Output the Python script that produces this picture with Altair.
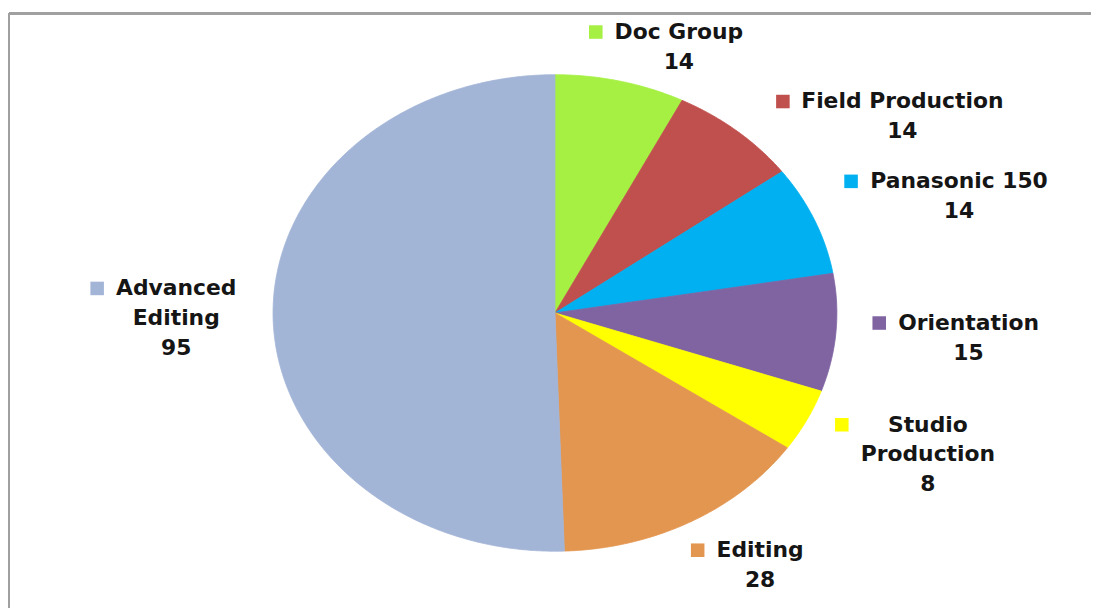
import math
import altair as alt
import pandas as pd

# ---- data ----
categories = ["Doc Group", "Field Production", "Panasonic 150", "Orientation",
              "Studio Production", "Editing", "Advanced Editing"]
values = [14, 14, 14, 15, 8, 28, 95]
colors = ["#A6F044", "#C0504D", "#00B0F0", "#8064A2", "#FFFF00", "#E39650", "#A3B5D7"]
label_lines = [["Doc Group"], ["Field Production"], ["Panasonic 150"], ["Orientation"],
               ["Studio", "Production"], ["Editing"], ["Advanced", "Editing"]]

# ---- layout ----
W, H = 1090, 597
CX, CY = 550, 302          # pie centre in view pixels
RX, RY = 284, 240          # pie radii (reference is stretched horizontally)
FONT_SIZE = 22
LINE_H = 30
R_A = 1.13                 # label anchor distance in pie radii
SQ = 14                    # legend key size
SQ_GAP = 12
TOP_MIN, BOT_MAX = 4, 586  # label block limits (view px)

# DejaVu Sans Bold advance widths (units / 2048) for text measuring
CW = {" ": 713, "0": 1425, "1": 1425, "2": 1425, "3": 1425, "4": 1425, "5": 1425,
      "6": 1425, "7": 1425, "8": 1425, "9": 1425, "A": 1585, "D": 1696, "E": 1399,
      "F": 1290, "G": 1669, "O": 1743, "P": 1499, "S": 1479, "a": 1382, "c": 1214,
      "d": 1466, "e": 1389, "g": 1466, "i": 702, "l": 702, "n": 1460, "o": 1407,
      "p": 1466, "r": 1010, "s": 1219, "t": 979, "u": 1460, "v": 1331}


def text_w(s):
    return sum(CW.get(ch, 1300) for ch in s) / 2048 * FONT_SIZE


def hshift(sa):
    return math.copysign(math.sqrt(abs(sa)), sa)


total = sum(values)

# ---- pie slices as filled polygons ----
rows = []
start = 0
mids = []
for name, v in zip(categories, values):
    a0 = start / total * 2 * math.pi
    a1 = (start + v) / total * 2 * math.pi
    mids.append((a0 + a1) / 2)
    n = max(2, int(math.ceil((a1 - a0) / math.radians(0.5))))
    pts = [(0.0, 0.0)]
    for j in range(n + 1):
        a = a0 + (a1 - a0) * j / n
        pts.append((math.sin(a), math.cos(a)))
    pts.append((0.0, 0.0))
    for i, (x, y) in enumerate(pts):
        rows.append({"name": name, "i": i, "x": x, "y": y})
    start += v
pie_df = pd.DataFrame(rows)

# ---- label boxes (view px, y down) ----
labs = []
for name, lines, v, a in zip(categories, label_lines, values, mids):
    w = max(text_w(s) for s in lines)
    bw = SQ + SQ_GAP + w
    bh = (len(lines) + 1) * LINE_H
    sa, ca = math.sin(a), math.cos(a)
    px = CX + R_A * RX * sa
    py = CY - R_A * RY * ca
    cx = px + hshift(sa) * bw / 2
    cy = py - ca * bh / 2
    cy = min(max(cy, TOP_MIN + bh / 2), BOT_MAX - bh / 2)
    labs.append({"name": name, "lines": lines, "v": v, "a": a, "w": w,
                 "bw": bw, "bh": bh, "cx": cx, "cy": cy})

# push right-side labels apart vertically
right = sorted([l for l in labs if math.sin(l["a"]) > 0], key=lambda l: l["a"])
for p, q in zip(right[:-1], right[1:]):
    need = p["cy"] + (p["bh"] + q["bh"]) / 2 + 10
    if q["cy"] < need:
        q["cy"] = need
        sa, ca = math.sin(q["a"]), math.cos(q["a"])
        py = q["cy"] + ca * q["bh"] / 2
        yn = (CY - py) / RY
        xn = math.sqrt(max(R_A ** 2 - yn ** 2, 0.0))
        q["cx"] = CX + xn * RX + hshift(sa) * q["bw"] / 2

lab_rows, sq_rows = [], []
for l in labs:
    nl = len(l["lines"]) + 1
    left = l["cx"] - l["bw"] / 2
    first_y = l["cy"] - (nl - 1) / 2 * LINE_H
    tx = left + SQ + SQ_GAP + l["w"] / 2
    sx = left + SQ / 2
    lab_rows.append({"name": l["name"], "text": "\n".join(l["lines"] + [str(l["v"])]),
                     "x": (tx - CX) / RX, "y": (CY - first_y) / RY})
    sq_rows.append({"name": l["name"], "x": (sx - CX) / RX, "y": (CY - first_y) / RY})
lab_df = pd.DataFrame(lab_rows)
sq_df = pd.DataFrame(sq_rows)

xs = alt.Scale(domain=[-1, 1], range=[CX - RX, CX + RX], nice=False, zero=False)
ys = alt.Scale(domain=[-1, 1], range=[CY + RY, CY - RY], nice=False, zero=False)
cs = alt.Scale(domain=categories, range=colors)

pie = alt.Chart(pie_df).mark_line(filled=True, strokeWidth=0.8).encode(
    x=alt.X("x:Q", scale=xs, axis=None),
    y=alt.Y("y:Q", scale=ys, axis=None),
    color=alt.Color("name:N", scale=cs, legend=None),
    stroke=alt.Stroke("name:N", scale=cs, legend=None),
    order=alt.Order("i:Q"),
)

squares = alt.Chart(sq_df).mark_square(size=SQ * SQ - 10, opacity=1, filled=True).encode(
    x=alt.X("x:Q", scale=xs, axis=None),
    y=alt.Y("y:Q", scale=ys, axis=None),
    color=alt.Color("name:N", scale=cs, legend=None),
)

labels = alt.Chart(lab_df).mark_text(
    font="DejaVu Sans", fontSize=FONT_SIZE, fontWeight="bold", lineHeight=LINE_H,
    align="center", baseline="middle", lineBreak="\n", color="#151515"
).encode(
    x=alt.X("x:Q", scale=xs, axis=None),
    y=alt.Y("y:Q", scale=ys, axis=None),
    text="text:N",
)

border_top = alt.Chart(pie_df).mark_rule(color="#A0A0A0", strokeWidth=2).encode(
    x=alt.value(0), x2=alt.value(W + 10), y=alt.value(0)
)
border_left = alt.Chart(pie_df).mark_rule(color="#A0A0A0", strokeWidth=2).encode(
    x=alt.value(0), y=alt.value(0), y2=alt.value(H + 10)
)

chart = alt.layer(pie, squares, labels, border_top, border_left).properties(
    width=W, height=H,
    padding={"left": 1, "top": 3, "right": 0, "bottom": 0},
    autosize="none",
    background="#FFFFFF",
).configure_view(strokeWidth=0)

chart.save("out.html", embed_options={"renderer": "svg", "actions": False})
